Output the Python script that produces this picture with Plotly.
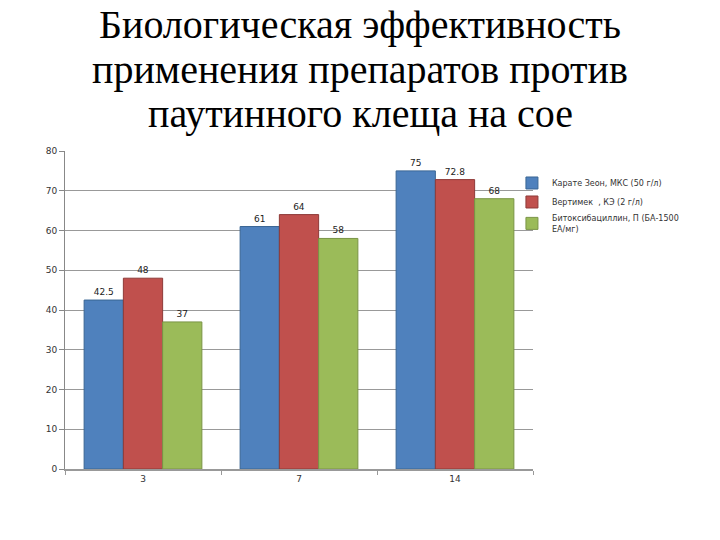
import plotly.graph_objects as go

categories = ["3", "7", "14"]
series_names = ["Карате Зеон, МКС (50 г/л)", "Вертимек  , КЭ (2 г/л)", "Битоксибациллин, П (БА-1500<br>ЕА/мг)"]
karate = [42.5, 61, 75]
vertimek = [48, 64, 72.8]
bitoxi = [37, 58, 68]
colors = ["#4F81BD", "#C0504D", "#9BBB59"]
lines = ["#3A6694", "#8E3A38", "#7A9446"]
title_lines = ["Биологическая эффективность", "применения препаратов против", "паутинного клеща на сое"]

fig = go.Figure()
for name, vals, c, lc in zip(series_names, [karate, vertimek, bitoxi], colors, lines):
    fig.add_trace(go.Bar(
        x=categories, y=vals, name=name,
        marker=dict(color=c, line=dict(color=lc, width=1)),
        text=[str(v) for v in vals], textposition="outside",
        textfont=dict(size=9, color="#222", family="DejaVu Sans"),
        cliponaxis=False,
    ))

plot_top, plot_h = 151, 318
for i, (t, yc) in enumerate(zip(title_lines, [24, 69, 114])):
    fig.add_annotation(
        text=t, xref="paper", yref="paper", x=0.5, xanchor="center",
        y=1 + (plot_top - yc) / plot_h, yanchor="middle", showarrow=False,
        font=dict(family="Liberation Serif", size=40, color="black"),
        xshift=(360 - (65 + 468 / 2)),
    )

fig.update_layout(
    width=720, height=540,
    paper_bgcolor="white", plot_bgcolor="white",
    margin=dict(l=65, r=187, t=151, b=71),
    barmode="group", bargap=0.245, bargroupgap=0,
    legend=dict(
        x=0.955, xanchor="left", y=0.945, yanchor="top",
        font=dict(size=8, color="#333", family="DejaVu Sans"),
        itemwidth=30, tracegroupgap=0, bgcolor="rgba(0,0,0,0)",
    ),
    xaxis=dict(
        type="category", showline=True, linecolor="#999", linewidth=2,
        ticks="outside", tickson="boundaries", ticklen=4, tickcolor="#999",
        tickfont=dict(size=9, color="#333", family="DejaVu Sans"),
    ),
    yaxis=dict(
        range=[0, 80], dtick=10, showline=True, linecolor="#888", linewidth=1,
        gridcolor="#999", gridwidth=1, ticks="outside", ticklen=5, tickcolor="#888",
        tickfont=dict(size=9, color="#333", family="DejaVu Sans"), zeroline=False,
    ),
)
fig.write_html("out.html")
